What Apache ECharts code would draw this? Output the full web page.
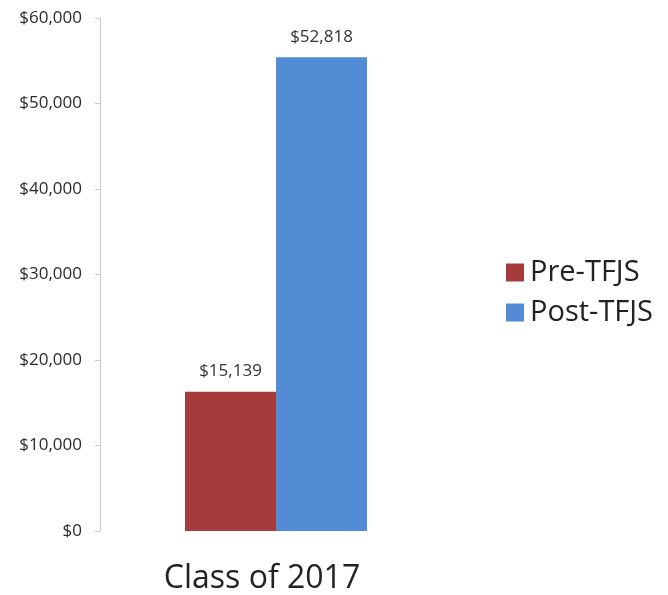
<!DOCTYPE html>
<html>
<head>
<meta charset="utf-8">
<script src="https://cdn.jsdelivr.net/npm/echarts@6/dist/echarts.min.js"></script>
<style>
  html, body { margin: 0; padding: 0; background: #fff; }
  #chart { width: 668px; height: 595px; }
</style>
</head>
<body>
<div id="chart"></div>
<script>
var categories = ['Class of 2017'];
var seriesNames = ['Pre-TFJS', 'Post-TFJS'];
// bar heights as drawn in the picture
var preValues = [16300];
var postValues = [55400];
// value labels printed on the picture
var preLabels = ['$15,139'];
var postLabels = ['$52,818'];
var yTicks = { min: 0, max: 60000, interval: 10000 };

var myChart = echarts.init(document.getElementById('chart'));

var labelFor = function (texts) {
    return {
        show: true,
        position: 'top',
        distance: 12,
        fontFamily: 'Open Sans',
        fontSize: 17,
        color: '#333',
        formatter: function (p) { return texts[p.dataIndex]; }
    };
};

var option = {
    backgroundColor: '#fff',
    animation: false,
    grid: { left: 100, right: 216, top: 18, bottom: 61 },
    legend: {
        orient: 'vertical',
        left: 501,
        top: 253,
        itemWidth: 18,
        itemHeight: 18,
        itemGap: 11,
        icon: 'rect',
        textStyle: { fontFamily: 'Open Sans', fontSize: 29, color: '#222', padding: [0, 0, 0, 1] },
        data: seriesNames
    },
    xAxis: {
        type: 'category',
        data: categories,
        axisLine: { show: false },
        axisTick: { show: false },
        axisLabel: {
            fontFamily: 'Open Sans',
            fontSize: 32,
            color: '#222',
            margin: 32,
            padding: [0, 28, 0, 0]
        }
    },
    yAxis: {
        type: 'value',
        min: yTicks.min,
        max: yTicks.max,
        interval: yTicks.interval,
        axisLine: { show: true, lineStyle: { color: '#c8c8c8' } },
        axisTick: { show: true, length: 5, lineStyle: { color: '#c8c8c8' } },
        splitLine: { show: false },
        axisLabel: {
            fontFamily: 'Open Sans',
            fontSize: 17,
            color: '#2b2b2b',
            margin: 18,
            formatter: function (v) { return '$' + v.toLocaleString('en-US'); }
        }
    },
    series: [
        {
            name: seriesNames[0],
            type: 'bar',
            barWidth: 91,
            barGap: '0%',
            itemStyle: { color: '#A53B3B' },
            label: labelFor(preLabels),
            data: preValues
        },
        {
            name: seriesNames[1],
            type: 'bar',
            barWidth: 91,
            barGap: '0%',
            itemStyle: { color: '#538CD5' },
            label: labelFor(postLabels),
            data: postValues
        }
    ]
};

myChart.setOption(option);
</script>
</body>
</html>
